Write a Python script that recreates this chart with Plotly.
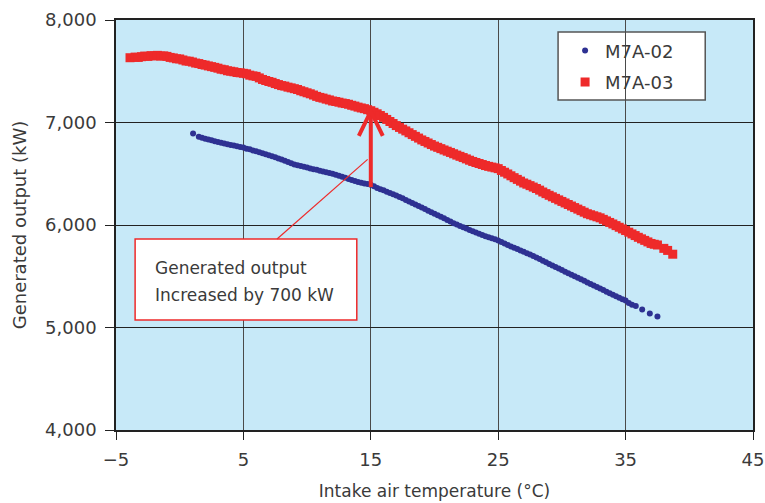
import plotly.graph_objects as go

# ---- Data (intake air temp degC, generated output kW) ----
red_temp = [-3.9, -3.5, -3.25, -3.0, -2.75, -2.5, -2.25, -2.0, -1.75, -1.5, -1.25, -1.0,
            -0.75, -0.5, -0.25, 0.0, 0.25, 0.5, 0.75, 1.0, 1.25, 1.5, 1.75, 2.0,
            2.25, 2.5, 2.75, 3.0, 3.25, 3.5, 3.75, 4.0, 4.25, 4.5, 4.75, 5.0,
            5.25, 5.5, 5.75, 6.0, 6.25, 6.5, 6.75, 7.0, 7.25, 7.5, 7.75, 8.0,
            8.25, 8.5, 8.75, 9.0, 9.25, 9.5, 9.75, 10.0, 10.25, 10.5, 10.75, 11.0,
            11.25, 11.5, 11.75, 12.0, 12.25, 12.5, 12.75, 13.0, 13.25, 13.5, 13.75, 14.0,
            14.25, 14.5, 14.75, 15.0, 15.25, 15.5, 15.75, 16.0, 16.25, 16.5, 16.75, 17.0,
            17.25, 17.5, 17.75, 18.0, 18.25, 18.5, 18.75, 19.0, 19.25, 19.5, 19.75, 20.0,
            20.25, 20.5, 20.75, 21.0, 21.25, 21.5, 21.75, 22.0, 22.25, 22.5, 22.75, 23.0,
            23.25, 23.5, 23.75, 24.0, 24.25, 24.5, 24.75, 25.0, 25.25, 25.5, 25.75, 26.0,
            26.25, 26.5, 26.75, 27.0, 27.25, 27.5, 27.75, 28.0, 28.25, 28.5, 28.75, 29.0,
            29.25, 29.5, 29.75, 30.0, 30.25, 30.5, 30.75, 31.0, 31.25, 31.5, 31.75, 32.0,
            32.25, 32.5, 32.75, 33.0, 33.25, 33.5, 33.75, 34.0, 34.25, 34.5, 34.75, 35.0,
            35.25, 35.5, 35.75, 36.0, 36.25, 36.5, 36.75, 37.0, 37.25, 37.5, 38.0, 38.3, 38.7]
red_kw = [7632, 7638, 7635, 7642, 7648, 7645, 7652, 7650, 7655, 7648, 7650, 7645,
          7635, 7630, 7622, 7620, 7610, 7600, 7598, 7590, 7580, 7575, 7566, 7560,
          7552, 7545, 7538, 7530, 7520, 7515, 7505, 7500, 7495, 7488, 7485, 7480,
          7475, 7462, 7455, 7450, 7435, 7420, 7410, 7400, 7392, 7380, 7370, 7360,
          7355, 7345, 7338, 7330, 7322, 7310, 7300, 7290, 7280, 7268, 7255, 7245,
          7238, 7228, 7220, 7210, 7205, 7198, 7190, 7185, 7178, 7168, 7160, 7150,
          7142, 7135, 7125, 7115, 7100, 7085, 7068, 7050, 7030, 7010, 6990, 6970,
          6952, 6935, 6918, 6900, 6882, 6865, 6848, 6830, 6815, 6800, 6785, 6770,
          6758, 6745, 6732, 6720, 6708, 6695, 6682, 6670, 6658, 6645, 6632, 6620,
          6610, 6600, 6590, 6580, 6572, 6565, 6558, 6550, 6532, 6515, 6498, 6480,
          6462, 6445, 6428, 6410, 6398, 6384, 6370, 6356, 6340, 6322, 6306, 6290,
          6275, 6260, 6245, 6230, 6215, 6200, 6185, 6170, 6155, 6140, 6125, 6110,
          6100, 6090, 6080, 6070, 6055, 6040, 6025, 6010, 5994, 5978, 5962, 5946,
          5930, 5913, 5897, 5880, 5865, 5850, 5835, 5820, 5812, 5805, 5772, 5752, 5715]

blue_temp = [1.05, 1.5, 1.75, 2.0, 2.25, 2.5, 2.75, 3.0, 3.25, 3.5, 3.75, 4.0,
             4.25, 4.5, 4.75, 5.0, 5.25, 5.5, 5.75, 6.0, 6.25, 6.5, 6.75, 7.0,
             7.25, 7.5, 7.75, 8.0, 8.25, 8.5, 8.75, 9.0, 9.25, 9.5, 9.75, 10.0,
             10.25, 10.5, 10.75, 11.0, 11.25, 11.5, 11.75, 12.0, 12.25, 12.5, 12.75, 13.0,
             13.25, 13.5, 13.75, 14.0, 14.25, 14.5, 14.75, 15.0, 15.25, 15.5, 15.75, 16.0,
             16.25, 16.5, 16.75, 17.0, 17.25, 17.5, 17.75, 18.0, 18.25, 18.5, 18.75, 19.0,
             19.25, 19.5, 19.75, 20.0, 20.25, 20.5, 20.75, 21.0, 21.25, 21.5, 21.75, 22.0,
             22.25, 22.5, 22.75, 23.0, 23.25, 23.5, 23.75, 24.0, 24.25, 24.5, 24.75, 25.0,
             25.25, 25.5, 25.75, 26.0, 26.25, 26.5, 26.75, 27.0, 27.25, 27.5, 27.75, 28.0,
             28.25, 28.5, 28.75, 29.0, 29.25, 29.5, 29.75, 30.0, 30.25, 30.5, 30.75, 31.0,
             31.25, 31.5, 31.75, 32.0, 32.25, 32.5, 32.75, 33.0, 33.25, 33.5, 33.75, 34.0,
             34.25, 34.5, 34.75, 35.0, 35.25, 35.5, 35.8, 36.3, 36.9, 37.5]
blue_kw = [6893, 6862, 6852, 6842, 6835, 6828, 6818, 6810, 6802, 6795, 6788, 6780,
           6775, 6768, 6762, 6756, 6745, 6738, 6728, 6720, 6710, 6700, 6690, 6680,
           6670, 6660, 6650, 6640, 6628, 6615, 6602, 6590, 6582, 6575, 6568, 6560,
           6552, 6545, 6538, 6530, 6522, 6515, 6508, 6500, 6490, 6480, 6470, 6460,
           6450, 6440, 6430, 6420, 6412, 6405, 6400, 6392, 6378, 6362, 6350, 6338,
           6325, 6312, 6300, 6288, 6273, 6260, 6245, 6230, 6215, 6200, 6185, 6170,
           6155, 6140, 6125, 6110, 6095, 6080, 6065, 6050, 6035, 6018, 6005, 5990,
           5978, 5965, 5952, 5940, 5928, 5915, 5902, 5890, 5880, 5870, 5860, 5849,
           5835, 5820, 5805, 5790, 5778, 5765, 5752, 5740, 5725, 5712, 5698, 5683,
           5668, 5652, 5636, 5620, 5605, 5590, 5575, 5560, 5545, 5530, 5515, 5500,
           5485, 5470, 5455, 5440, 5425, 5410, 5395, 5380, 5365, 5350, 5335, 5320,
           5305, 5290, 5276, 5263, 5240, 5222, 5210, 5175, 5137, 5107]

x_ticks = [-5, 5, 15, 25, 35, 45]
x_tick_labels = ["\u22125", "5", "15", "25", "35", "45"]
y_ticks = [4000, 5000, 6000, 7000, 8000]
y_tick_labels = ["4,000", "5,000", "6,000", "7,000", "8,000"]

FONT = "'DejaVu Sans', sans-serif"
RED = "#ee2a2a"
BLUE = "#2e3192"
TXT = "#3a3a3a"

fig = go.Figure()
fig.add_trace(go.Scatter(x=blue_temp, y=blue_kw, mode="markers", name="M7A-02", legendgroup="a",
                         marker=dict(symbol="circle", size=6, color=BLUE)))
fig.add_trace(go.Scatter(x=red_temp, y=red_kw, mode="markers", name="M7A-03", legendgroup="b",
                         marker=dict(symbol="square", size=9, color=RED)))

# legend frame
fig.add_shape(type="rect", xref="paper", yref="paper", x0=0.694, x1=0.925, y0=0.805, y1=0.971,
              line=dict(color="#555555", width=1.5), fillcolor="white", layer="below")
# callout box
fig.add_shape(type="rect", xref="x", yref="y", x0=-3.5, x1=13.9, y0=5073, y1=5863,
              line=dict(color=RED, width=1.5), fillcolor="white", layer="above")
# leader line from box to arrow
fig.add_shape(type="line", xref="x", yref="y", x0=7.64, y0=5863, x1=14.75, y1=6640,
              line=dict(color=RED, width=1.2), layer="above")
fig.add_annotation(x=-2.1, y=5580, xref="x", yref="y", xanchor="left", yanchor="middle",
                   align="left", showarrow=False, text="Generated output",
                   font=dict(family=FONT, size=17, color=TXT))
fig.add_annotation(x=-2.1, y=5317, xref="x", yref="y", xanchor="left", yanchor="middle",
                   align="left", showarrow=False, text="Increased by 700 kW",
                   font=dict(family=FONT, size=17, color=TXT))
# thick arrow: shaft and open head
ARW = dict(color=RED, width=4)
fig.add_shape(type="line", xref="x", yref="y", x0=15, y0=6370, x1=15, y1=7100,
              line=ARW, layer="above")
fig.add_shape(type="path", xref="x", yref="y",
              path="M 14.06,6870 L 15,7110 L 15.94,6870",
              line=ARW, layer="above")

fig.update_layout(
    width=765, height=503,
    margin=dict(l=116, r=12, t=20, b=73),
    paper_bgcolor="white", plot_bgcolor="#c7e9f8",
    font=dict(family=FONT, size=16, color=TXT),
    legend=dict(x=0.705, y=0.970, xanchor="left", yanchor="top",
                bgcolor="rgba(0,0,0,0)", borderwidth=0,
                font=dict(family=FONT, size=18, color=TXT),
                itemsizing="trace", tracegroupgap=5),
    showlegend=True,
)
fig.update_xaxes(range=[-5, 45], tickvals=x_ticks, ticktext=x_tick_labels, automargin=False,
                 showgrid=True, gridcolor="#4a4a4a", gridwidth=1,
                 showline=True, linecolor="#222222", linewidth=1.5, mirror=True,
                 ticks="outside", ticklen=8, tickcolor="#222222", zeroline=False,
                 ticklabelstandoff=5,
                 title=dict(text="Intake air temperature (\u00b0C)", font=dict(size=17), standoff=16),
                 tickfont=dict(size=18))
fig.update_yaxes(range=[4000, 8000], tickvals=y_ticks, ticktext=y_tick_labels, automargin=False,
                 showgrid=True, gridcolor="#222222", gridwidth=1,
                 showline=True, linecolor="#222222", linewidth=1.5, mirror=True,
                 ticks="outside", ticklen=9, tickcolor="#222222", zeroline=False,
                 ticklabelstandoff=5,
                 title=dict(text="Generated output (kW)", font=dict(size=18), standoff=14),
                 tickfont=dict(size=18))

fig.write_html("out.html", config={"displayModeBar": False},
               post_script="document.body.style.margin='0';document.body.style.overflow='hidden';")
